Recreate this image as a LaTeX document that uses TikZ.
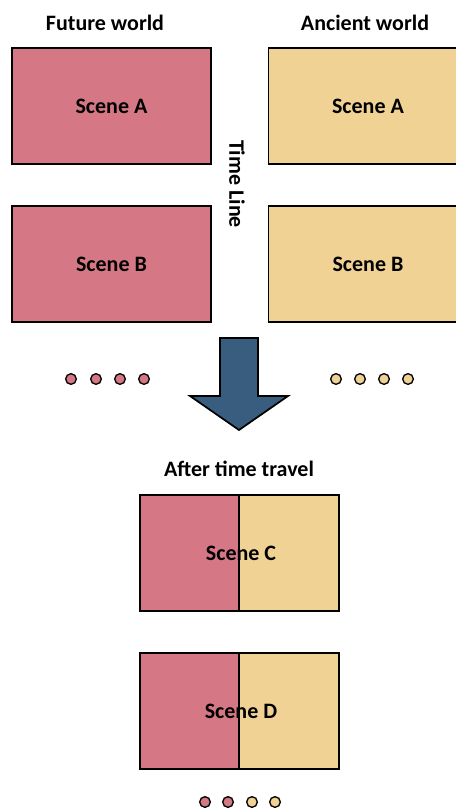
\documentclass[tikz,border=0pt]{standalone}
\usepackage{fontspec}
\setmainfont{Carlito}
\definecolor{futurepink}{HTML}{D67785}
\definecolor{ancientsand}{HTML}{F0D295}
\definecolor{arrowblue}{HTML}{385D7E}
\begin{document}
\begin{tikzpicture}[x={(0.75pt,0)}, y={(0,-0.75pt)},
  every node/.style={font=\bfseries\fontsize{16.5}{19}\selectfont},
  scenebox/.style={draw=black, line width=1.3pt, minimum width=149.25pt, minimum height=87pt, inner sep=0pt},
  dot/.style={circle, draw=black, line width=1pt, minimum size=8pt, inner sep=0pt},
  half/.style={draw=black, line width=1.3pt}]
\useasboundingbox (0,0) rectangle (456,809);
\clip (0,0) rectangle (456,809);

% column headings
\node (fw) at (105,23) {Future world};
\node (aw) at (365,23) {Ancient world};

% scenes of both worlds
\node[scenebox, fill=futurepink] (fa) at (111.5,106) {Scene A};
\node[scenebox, fill=futurepink] (fb) at (111.5,264) {Scene B};
\node[scenebox, fill=ancientsand] (aa) at (368,106) {Scene A};
\node[scenebox, fill=ancientsand] (ab) at (368,264) {Scene B};

% time line label
\node[rotate=-90] (tl) at (237,184) {Time Line};

% continuation dots
\foreach \x [count=\i] in {71,96,120,144}
  \node[dot, fill=futurepink] (fd\i) at (\x,379) {};
\foreach \x [count=\i] in {336,360,384,408}
  \node[dot, fill=ancientsand] (ad\i) at (\x,379) {};

% big arrow
\draw[line width=1.3pt, fill=arrowblue, line join=miter]
  (220,338) -- (258,338) -- (258,396) -- (288,396) -- (239,430)
  -- (190,396) -- (220,396) -- cycle;

\node (att) at (239,469) {After time travel};

% mixed scenes
\foreach \y/\n/\t in {495/c/C, 653/d/D} {
  \draw[half, fill=futurepink] (140,\y) rectangle (239,\y+116);
  \draw[half, fill=ancientsand] (239,\y) rectangle (339,\y+116);
  \node (s\n) at (241,\y+58) {Scene \t};
}

\foreach \x/\c [count=\i] in {205/futurepink,228/futurepink,252/ancientsand,275/ancientsand}
  \node[dot, fill=\c] (md\i) at (\x,802) {};
\end{tikzpicture}
\end{document}
